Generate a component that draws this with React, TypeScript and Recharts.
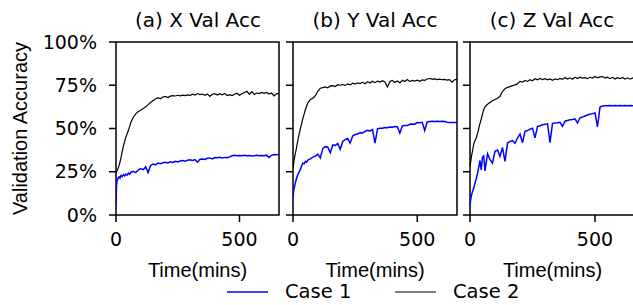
import { LineChart, Line, XAxis, YAxis, ReferenceArea } from 'recharts';

// minutes, denser at the start where the curves climb fast
const TIME = [
  0, 2, 4, 6, 8, 10, 13, 16, 20, 25, 30, 35, 40, 45, 50, 55, 60,
  70, 80, 90, 100, 110, 120, 130, 140, 150, 160,
  170, 180, 190, 200, 210, 220, 230, 240, 250, 260,
  270, 280, 290, 300, 310, 320, 330, 340, 350, 360,
  370, 380, 390, 400, 410, 420, 430, 440, 450, 460,
  470, 480, 490, 500, 510, 520, 530, 540, 550, 560,
  570, 580, 590, 600, 610, 620, 630, 640, 650, 660,
];

const X_CASE1 = [
  5, 17, 19.5, 20.5, 21, 21.5, 22, 21.3, 22.8, 22.2, 23.3, 22.6, 23.6, 23, 24.2, 23.5, 24.6,
  25.2, 24.5, 26, 26.8, 26.2, 27.8, 24.5, 28.6, 29.5, 29,
  30, 29.6, 30.2, 30.5, 30.1, 30.8, 30.4, 31, 30.6, 31.2,
  31.5, 31.1, 31.7, 31.9, 31.5, 32, 30.5, 32.2, 32.4, 32.1,
  32.8, 33, 32.4, 33.2, 33.1, 33.4, 33, 33.3, 33.1, 33.6,
  34.2, 34.5, 34.3, 34.4, 34.2, 34.5, 34.3, 34.4, 34.1, 34.3,
  34.5, 34.2, 34.4, 34.3, 34.6, 33.2, 34.5, 35, 34.8, 35,
];
const X_CASE2 = [
  24, 24.8, 25.5, 26, 26.8, 27.5, 29, 30.5, 33, 36.5, 40, 42.5, 45, 47, 48.8, 51, 53.5,
  56.5, 58.5, 59.8, 60.5, 61.5, 62.6, 63.8, 65, 66.2, 67,
  67.8, 67.2, 68.2, 68.5, 67.9, 68.7, 69, 68.8, 69.2, 68.9,
  69.3, 69, 69.4, 69.1, 69.8, 69.3, 70.2, 69.6, 69.9, 69.2,
  70, 68.6, 69.8, 70.2, 69.3, 70.1, 69.5, 70.3, 69.1, 69.6,
  69, 69.8, 70.4, 69.2, 70.1, 70.8, 71.5, 69.8, 71.3, 69.7,
  70.5, 70.2, 70.9, 70.3, 70.8, 69.9, 70.5, 68.8, 70, 70.3,
];

const Y_CASE1 = [
  9.5, 13, 15, 16.5, 17.5, 19, 20.5, 22, 23.5, 25, 26.5, 28.5, 30, 29.6, 31, 30.5, 31.8,
  32.4, 33.5, 34, 35.2, 33, 38.5, 39.5, 39.2, 36, 40.5,
  40.2, 41.3, 38, 42.5, 43.6, 44.2, 41.5, 45.6, 46.5, 46.8,
  47.6, 47.4, 48.3, 48.9, 48.6, 49.4, 41.5, 49.8, 50.2, 50.1,
  50.6, 50.4, 50.8, 50.7, 51.2, 51, 47.4, 51.5, 51.8, 51.7,
  52.4, 52.6, 52.5, 53.4, 53.3, 53.6, 48.8, 53.8, 54.1, 54.2,
  54, 54.2, 54.1, 54.2, 54, 53.6, 53.4, 53.5, 53.4, 53.5,
];
const Y_CASE2 = [
  27, 29, 31, 33, 34.5, 36, 38, 40.5, 43.5, 47, 50, 53, 56, 58.5, 61, 63, 65,
  66.8, 67.5, 69, 71.5, 73.3, 73.6, 74, 73.5, 74.6, 74.8,
  74.3, 75.3, 75, 75.4, 74.9, 75.8, 75.2, 76.2, 75.7, 76.4,
  76, 76.8, 75.9, 77, 76.3, 77.3, 76.5, 77.4, 76.8, 77.6,
  76.9, 74, 77.2, 77.8, 76.6, 77.5, 76.4, 77.9, 77.2, 78.3,
  77.1, 77.8, 77.4, 77.9, 77.3, 78.1, 77.8, 78.6, 78.9, 78.5,
  78.7, 78.3, 78.5, 78.2, 78.4, 78, 78.3, 76.8, 78.2, 78.4,
];

const Z_CASE1 = [
  5, 8, 10, 11.5, 12.5, 13.5, 14.8, 16, 18.5, 21, 24, 27.5, 31.5, 26, 33.5, 34.2, 25.5,
  35.4, 32, 30, 36.8, 37.5, 34, 39, 31, 41.6, 42.5,
  43, 41.5, 44.5, 46.8, 41.8, 48.4, 48.8, 49.6, 50.2, 44.6,
  51.2, 51.6, 52.2, 52.4, 52.8, 41.8, 53, 53.2, 53.3, 53.6,
  51.2, 54.2, 54.6, 55, 55.2, 55.6, 53.2, 56.2, 56.6, 57.2,
  57.8, 58.2, 58.6, 59, 51, 62.4, 63, 63.1, 63.2, 63.3,
  63.2, 63.3, 63.2, 63.3, 63.2, 63.3, 63.2, 63.3, 63.2, 63.3,
];
const Z_CASE2 = [
  28, 30, 32, 34, 35.5, 37, 39.5, 41.5, 43, 44.5, 47, 50, 53, 55.5, 58.5, 61, 62.5,
  64, 65, 66, 66.8, 67.5, 68.6, 71.5, 73, 73.8, 74.2,
  74.8, 75.2, 75.8, 77.2, 76.8, 77.8, 77.2, 78.2, 77.6, 78.8,
  78.1, 78.9, 78.3, 78.8, 78.1, 78.6, 77.9, 78.7, 78.2, 78.9,
  78.4, 79.5, 78.6, 79.3, 78.5, 79.6, 78.9, 79.7, 79.1, 79.4,
  78.8, 79.6, 79.2, 80.1, 79.3, 79.8, 80, 79.2, 79.7, 78.8,
  79.6, 78.6, 79.4, 78.8, 79.5, 78.6, 79.3, 78.5, 79.2, 78.8,
];

const TITLES = ['(a) X Val Acc', '(b) Y Val Acc', '(c) Z Val Acc'];
const X_TICKS = [0, 500];
const Y_TICKS = [0, 25, 50, 75, 100];
const X_MAX = 660;

const SERIES = [
  { key: 'case1', name: 'Case 1', color: '#0000ff', width: 1.5 },
  { key: 'case2', name: 'Case 2', color: '#000000', width: 1.2 },
];

const PANELS = [
  { title: TITLES[0], case1: X_CASE1, case2: X_CASE2, left: 0, axisW: 116, plotW: 163, showLabels: true },
  { title: TITLES[1], case1: Y_CASE1, case2: Y_CASE2, left: 280, axisW: 13, plotW: 164, showLabels: false },
  { title: TITLES[2], case1: Z_CASE1, case2: Z_CASE2, left: 457, axisW: 13, plotW: 165, showLabels: false },
];

const DEJAVU = 'DejaVu Sans';
const LIBERATION = 'Liberation Sans';
const PLOT_TOP = 42;
const PLOT_BOTTOM = 215;
const H = 305;

function Panel({ p }: { p: (typeof PANELS)[number] }) {
  const data = TIME.map((t, i) => ({ t, case1: p.case1[i], case2: p.case2[i] }));
  const tickStyle = { fontSize: 19, fill: '#000', fontFamily: DEJAVU };
  return (
    <div style={{ position: 'absolute', left: p.left, top: 0 }}>
      <LineChart
        width={p.axisW + p.plotW + 2}
        height={H}
        data={data}
        margin={{ top: PLOT_TOP, right: 2, bottom: 0, left: 0 }}
      >
        <XAxis
          dataKey="t"
          type="number"
          domain={[0, X_MAX]}
          ticks={X_TICKS}
          allowDataOverflow
          height={H - PLOT_BOTTOM}
          axisLine={false}
          tickSize={7}
          tickMargin={11}
          tickLine={{ stroke: '#000', strokeWidth: 1.5 }}
          tick={tickStyle}
          label={{
            value: 'Time(mins)',
            position: 'insideBottom',
            offset: 28,
            style: { fontSize: 20, fill: '#000', fontFamily: LIBERATION },
          }}
        />
        <YAxis
          type="number"
          domain={[0, 100]}
          ticks={Y_TICKS}
          width={p.axisW}
          axisLine={false}
          tickSize={7}
          tickMargin={12}
          tickLine={{ stroke: '#000', strokeWidth: 1.5 }}
          tick={tickStyle}
          tickFormatter={(v: number) => (p.showLabels ? `${v}%` : '')}
          label={
            p.showLabels
              ? {
                  value: 'Validation Accuracy',
                  angle: -90,
                  position: 'insideLeft',
                  offset: 19.5,
                  style: { fontSize: 20, fill: '#000', fontFamily: LIBERATION, textAnchor: 'middle' },
                }
              : undefined
          }
        />
        <ReferenceArea
          x1={0}
          x2={X_MAX}
          y1={0}
          y2={100}
          fill="none"
          stroke="#000"
          strokeWidth={1.5}
          strokeOpacity={1}
          fillOpacity={0}
        />
        {SERIES.map((s) => (
          <Line
            key={s.key}
            type="linear"
            dataKey={s.key}
            name={s.name}
            stroke={s.color}
            strokeWidth={s.width}
            dot={false}
            isAnimationActive={false}
          />
        ))}
      </LineChart>
    </div>
  );
}

export default function App() {
  const legendX = [227, 395];
  return (
    <div
      style={{
        position: 'fixed',
        left: 0,
        top: 0,
        width: 633,
        height: H,
        overflow: 'hidden',
        background: '#fff',
      }}
    >
      {PANELS.map((p) => (
        <Panel key={p.title} p={p} />
      ))}
      <svg
        width={633}
        height={H}
        style={{ position: 'absolute', left: 0, top: 0, pointerEvents: 'none' }}
      >
        {PANELS.map((p) => (
          <text
            key={p.title}
            x={p.left + p.axisW + 164 / 2}
            y={26.7}
            textAnchor="middle"
            fontSize={20}
            fontFamily={DEJAVU}
            fill="#000"
          >
            {p.title}
          </text>
        ))}
        {SERIES.map((s, i) => (
          <g key={s.key}>
            <line x1={legendX[i]} x2={legendX[i] + 41} y1={292} y2={292} stroke={s.color} strokeWidth={s.width} />
            <text x={legendX[i] + 58} y={298} fontSize={19.5} fontFamily={DEJAVU} fill="#000">
              {s.name}
            </text>
          </g>
        ))}
      </svg>
    </div>
  );
}
